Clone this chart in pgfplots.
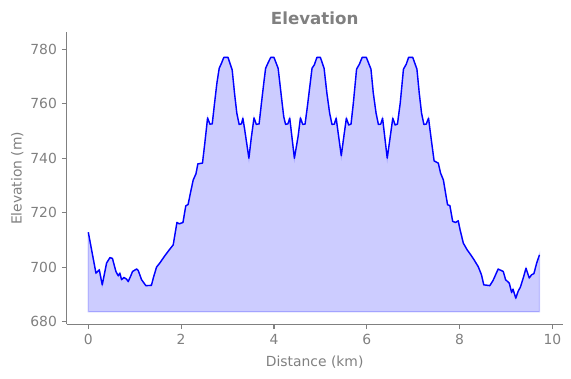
\documentclass[border=0pt]{standalone}
\usepackage{pgfplots}
\pgfplotsset{compat=1.18}
\usepackage{pgfplotstable}
\usepgfplotslibrary{fillbetween}
\usepackage{fontspec}
\setmainfont{DejaVu Sans}
\definecolor{mgray}{HTML}{808080}
\pgfplotstableread{
x y
0 712.8
0.165 697.8
0.237 699.0
0.30 693.5
0.394 701.5
0.466 703.5
0.52 703.2
0.595 698.4
0.645 696.8
0.68 697.8
0.717 695.4
0.767 696.2
0.824 695.6
0.86 694.7
0.91 696.6
0.953 698.4
1.04 699.3
1.075 698.8
1.147 695.4
1.24 693.2
1.36 693.3
1.40 696.0
1.47 700.0
1.54 701.5
1.65 704.2
1.72 705.8
1.83 708.2
1.86 711.3
1.91 716.4
1.96 715.9
2.04 716.4
2.10 722.5
2.15 723.0
2.20 727.2
2.26 732.0
2.32 734.3
2.36 737.9
2.46 738.2
2.51 745.5
2.57 754.8
2.62 752.5
2.67 752.6
2.72 760.2
2.77 767.5
2.82 773.0
2.87 774.9
2.92 777.0
3.01 777.0
3.10 772.4
3.15 763.9
3.20 756.5
3.25 752.4
3.30 752.6
3.33 754.7
3.37 750.4
3.46 740.0
3.51 747.3
3.57 754.8
3.62 752.4
3.68 752.6
3.73 760.2
3.78 767.5
3.82 773.0
3.87 774.9
3.93 777.0
4.00 777.0
4.09 773.0
4.16 762.6
4.21 755.3
4.25 752.4
4.30 752.6
4.34 754.7
4.44 740.0
4.52 748.0
4.57 754.8
4.62 752.4
4.67 752.5
4.72 759.0
4.82 773.0
4.87 774.3
4.925 777.0
5.00 777.0
5.08 773.0
5.14 763.9
5.20 756.5
5.25 752.4
5.30 752.5
5.34 754.7
5.45 740.9
5.50 747.3
5.56 754.7
5.61 752.2
5.66 752.5
5.71 760.2
5.78 772.7
5.84 774.5
5.90 777.0
5.99 777.0
6.09 772.7
6.14 763.9
6.20 756.5
6.25 752.4
6.30 752.5
6.34 754.7
6.44 740.0
6.50 747.3
6.56 754.7
6.61 752.2
6.66 752.5
6.72 760.2
6.79 772.7
6.85 774.5
6.90 777.0
6.99 777.0
7.08 772.7
7.13 763.9
7.18 756.5
7.23 752.4
7.28 752.5
7.33 754.7
7.38 748.0
7.45 739.0
7.54 738.2
7.59 734.5
7.65 732.0
7.71 725.9
7.74 722.9
7.79 722.6
7.85 716.8
7.91 716.4
7.97 717.0
8.01 713.7
8.08 708.8
8.16 706.4
8.24 704.5
8.31 702.7
8.40 700.2
8.47 697.2
8.52 693.5
8.65 693.2
8.72 695.1
8.83 699.3
8.94 698.4
8.99 695.4
9.07 694.1
9.12 690.7
9.15 691.9
9.21 688.6
9.26 691.1
9.31 692.7
9.37 696.0
9.43 699.6
9.50 696.0
9.55 697.2
9.60 697.6
9.66 701.5
9.72 704.5
}\elev
\pgfplotstableread{
x y
0 683.6
9.72 683.6
}\base
\begin{document}
\begin{tikzpicture}
\begin{axis}[
  scale only axis,
  width=357.1pt, height=210.2pt,
  at={(48pt,38.7pt)}, anchor=south west,
  xmin=-0.466, xmax=10.22, ymin=679, ymax=786.2,
  axis x line*=bottom, axis y line*=left,
  axis line style={mgray, line width=0.8pt, -},
  xtick align=outside, ytick align=outside,
  major tick length=3.5pt,
  minor tick num=0,
  tick style={mgray, line width=0.8pt},
  xtick={0,2,4,6,8,10}, ytick={680,700,720,740,760,780},
  /pgf/number format/assume math mode=true,
  ticklabel style={font=\fontsize{10}{12}\selectfont, text=mgray},
  title={\bfseries Elevation},
  title style={font=\fontsize{12}{14}\selectfont, text=mgray, at={(axis description cs:0.5,1)}, anchor=base},
  xlabel={Distance (km)},
  xlabel style={font=\fontsize{10}{12}\selectfont, text=mgray, at={(axis description cs:0.5,0)}, anchor=center, yshift=-27.1pt},
  ylabel={Elevation (m)},
  ylabel style={font=\fontsize{10}{12}\selectfont, text=mgray, at={(axis description cs:0,0.5)}, anchor=center, yshift=35.5pt},
  clip=false,
]
\addplot[draw=none, name path=top, forget plot] table[x=x,y=y] {\elev};
\addplot[draw=none, name path=bot, forget plot] table[x=x,y=y] {\base};
\addplot[fill=blue, fill opacity=0.2, draw=blue, draw opacity=0.2, line width=1pt] fill between[of=top and bot];
\addplot[blue, line width=1pt, line join=round] table[x=x,y=y] {\elev};
\end{axis}
\path[use as bounding box] (0,0) rectangle (411.1pt,272.2pt);
\end{tikzpicture}
\end{document}
